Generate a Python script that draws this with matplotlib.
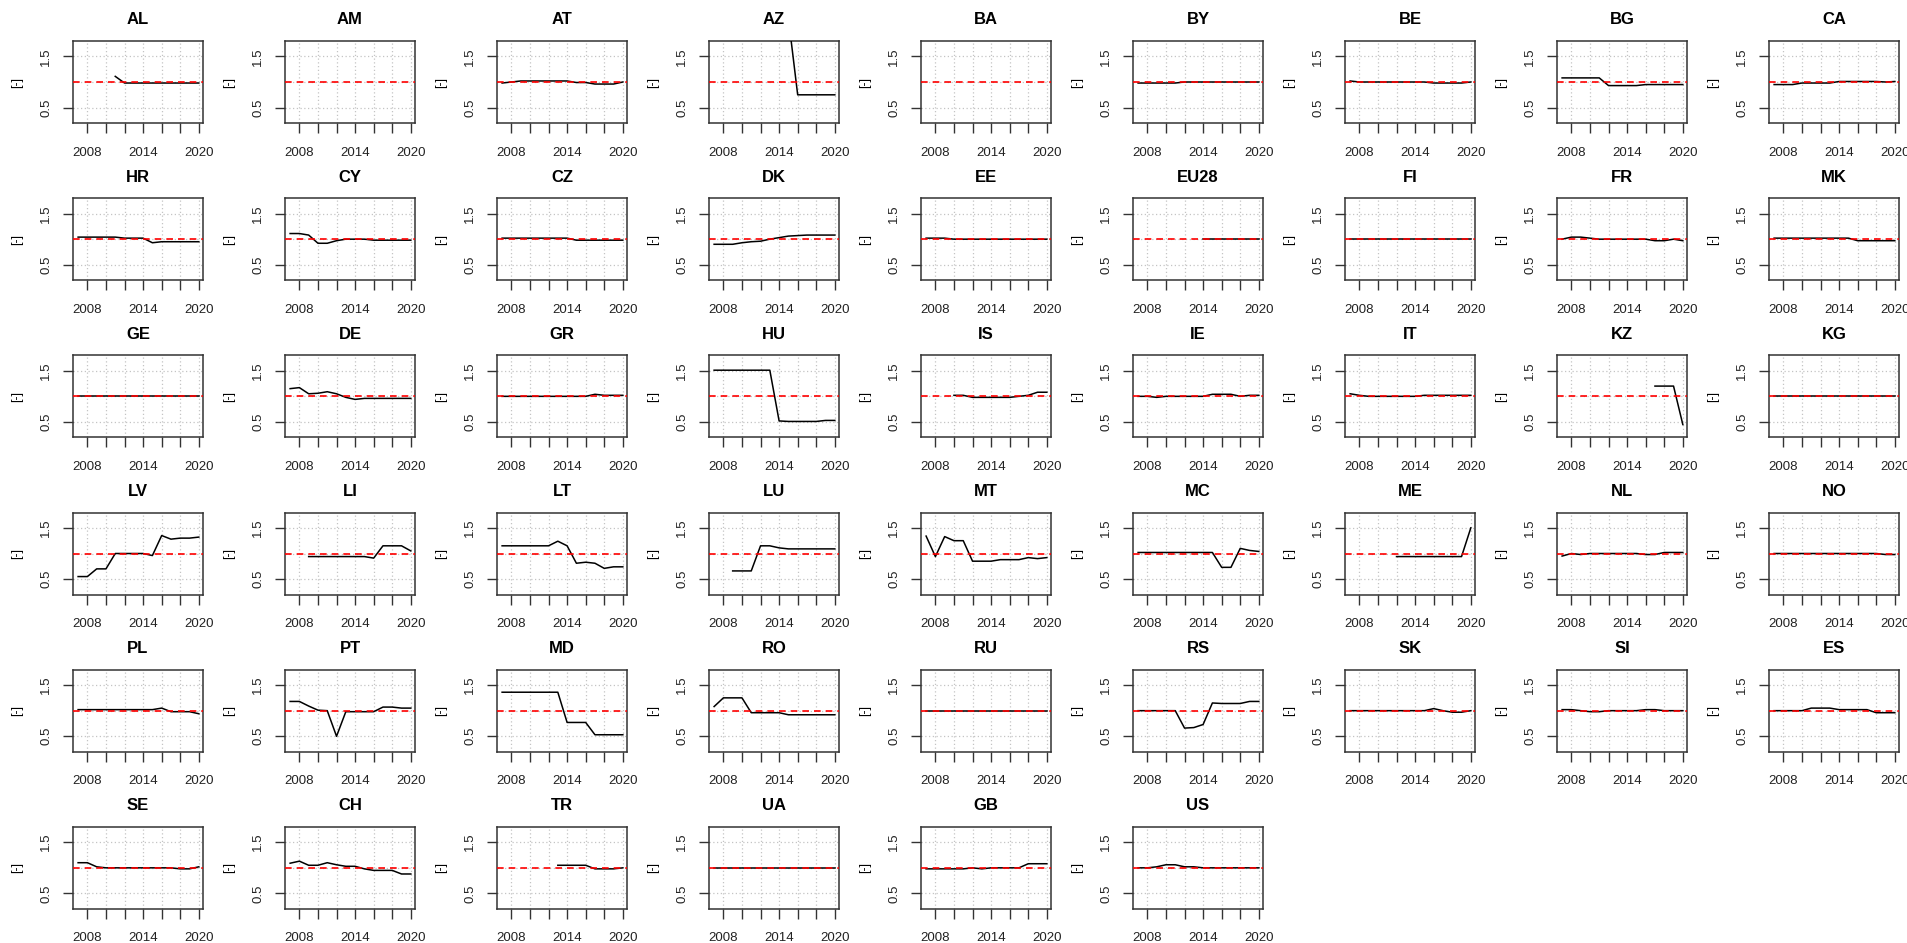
import numpy as np
import matplotlib
matplotlib.use("Agg")
from matplotlib import pyplot as plt

plt.rcParams['font.family'] = ['Liberation Sans', 'DejaVu Sans']

n = np.nan
years = [2007, 2008, 2009, 2010, 2011, 2012, 2013, 2014, 2015, 2016, 2017, 2018, 2019, 2020]

AL = [n, n, n, n, 1.11, 0.98, 0.98, 0.98, 0.98, 0.98, 0.98, 0.98, 0.98, 0.98]
AM = [n, n, n, n, n, n, n, n, n, n, n, n, n, n]
AT = [0.98, 1.0, 1.02, 1.02, 1.02, 1.02, 1.02, 1.02, 0.99, 0.99, 0.96, 0.96, 0.96, 1.0]
AZ = [n, n, n, n, n, n, n, n, 2.25, 0.75, 0.75, 0.75, 0.75, 0.75]
BA = [n, n, n, n, n, n, n, n, n, n, n, n, n, n]
BY = [0.98, 0.98, 0.98, 0.98, 0.98, 1.0, 1.0, 1.0, 1.0, 1.0, 1.0, 1.0, 1.0, 1.0]
BE = [1.02, 1.0, 1.0, 1.0, 1.0, 1.0, 1.0, 1.0, 1.0, 0.98, 0.98, 0.98, 0.98, 1.0]
BG = [1.08, 1.08, 1.08, 1.08, 1.08, 0.93, 0.93, 0.93, 0.93, 0.95, 0.95, 0.95, 0.95, 0.95]
CA = [0.95, 0.95, 0.95, 0.98, 0.98, 0.98, 0.98, 1.01, 1.01, 1.01, 1.01, 1.01, 1.0, 1.01]

HR = [1.04, 1.04, 1.04, 1.04, 1.04, 1.02, 1.02, 1.02, 0.93, 0.95, 0.95, 0.95, 0.95, 0.95]
CY = [1.11, 1.11, 1.08, 0.92, 0.92, 0.97, 1.0, 1.0, 1.0, 0.98, 0.98, 0.98, 0.98, 0.98]
CZ = [1.02, 1.02, 1.02, 1.02, 1.02, 1.02, 1.02, 1.02, 0.98, 0.98, 0.98, 0.98, 0.98, 0.98]
DK = [0.9, 0.9, 0.9, 0.93, 0.95, 0.96, 1.0, 1.03, 1.06, 1.07, 1.08, 1.08, 1.08, 1.08]
EE = [1.02, 1.02, 1.02, 1.0, 1.0, 1.0, 1.0, 1.0, 1.0, 1.0, 1.0, 1.0, 1.0, 1.0]
EU28 = [n, n, n, n, n, n, n, 1.0, 1.0, 1.0, 1.0, 1.0, 1.0, 1.0]
FI = [1.0, 1.0, 1.0, 1.0, 1.0, 1.0, 1.0, 1.0, 1.0, 1.0, 1.0, 1.0, 1.0, 1.0]
FR = [1.0, 1.04, 1.04, 1.02, 1.0, 1.0, 1.0, 1.0, 1.0, 1.0, 0.97, 0.97, 1.0, 0.97]
MK = [1.02, 1.02, 1.02, 1.02, 1.02, 1.02, 1.02, 1.02, 1.02, 0.97, 0.97, 0.97, 0.97, 0.97]

GE = [1.0, 1.0, 1.0, 1.0, 1.0, 1.0, 1.0, 1.0, 1.0, 1.0, 1.0, 1.0, 1.0, 1.0]
DE = [1.15, 1.17, 1.05, 1.06, 1.09, 1.05, 0.98, 0.94, 0.96, 0.96, 0.96, 0.96, 0.96, 0.96]
GR = [1.0, 1.0, 1.0, 1.0, 1.0, 1.0, 1.0, 1.0, 1.0, 1.0, 1.04, 1.02, 1.02, 1.02]
HU = [1.51, 1.51, 1.51, 1.51, 1.51, 1.51, 1.51, 0.52, 0.51, 0.51, 0.51, 0.51, 0.53, 0.53]
IS = [n, n, n, 1.02, 1.02, 0.98, 0.98, 0.98, 0.98, 0.98, 1.0, 1.02, 1.08, 1.08]
IE = [1.0, 1.0, 0.98, 1.0, 1.0, 1.0, 1.0, 1.0, 1.04, 1.04, 1.04, 1.0, 1.02, 1.02]
IT = [1.05, 1.02, 1.0, 1.0, 1.0, 1.0, 1.0, 1.0, 1.02, 1.02, 1.02, 1.02, 1.02, 1.02]
KZ = [n, n, n, n, n, n, n, n, n, n, 1.2, 1.2, 1.2, 0.45]
KG = [1.0, 1.0, 1.0, 1.0, 1.0, 1.0, 1.0, 1.0, 1.0, 1.0, 1.0, 1.0, 1.0, 1.0]

LV = [0.55, 0.55, 0.7, 0.7, 1.0, 1.0, 1.0, 1.0, 0.96, 1.35, 1.28, 1.3, 1.3, 1.32]
LI = [n, n, 0.94, 0.94, 0.94, 0.94, 0.94, 0.94, 0.94, 0.91, 1.15, 1.15, 1.15, 1.05]
LT = [1.15, 1.15, 1.15, 1.15, 1.15, 1.15, 1.24, 1.15, 0.81, 0.83, 0.81, 0.71, 0.74, 0.74]
LU = [n, n, 0.66, 0.66, 0.66, 1.15, 1.15, 1.11, 1.09, 1.09, 1.09, 1.09, 1.09, 1.09]
MT = [1.34, 0.94, 1.33, 1.25, 1.25, 0.85, 0.85, 0.85, 0.88, 0.88, 0.88, 0.92, 0.9, 0.92]
MC = [1.02, 1.02, 1.02, 1.02, 1.02, 1.02, 1.02, 1.02, 1.02, 0.73, 0.73, 1.1, 1.06, 1.04]
ME = [n, n, n, n, n, 0.94, 0.94, 0.94, 0.94, 0.94, 0.94, 0.94, 0.94, 1.5]
NL = [0.95, 1.0, 0.98, 1.0, 1.0, 1.0, 1.0, 1.0, 1.0, 0.98, 0.98, 1.02, 1.02, 1.02]
NO = [1.0, 1.0, 1.0, 1.0, 1.0, 1.0, 1.0, 1.0, 1.0, 1.0, 1.0, 1.0, 0.98, 0.98]

PL = [1.02, 1.02, 1.02, 1.02, 1.02, 1.02, 1.02, 1.02, 1.02, 1.05, 0.98, 0.98, 0.98, 0.94]
PT = [1.18, 1.18, 1.09, 1.01, 1.0, 0.5, 0.98, 0.98, 0.98, 0.98, 1.07, 1.07, 1.05, 1.05]
MD = [1.36, 1.36, 1.36, 1.36, 1.36, 1.36, 1.36, 0.77, 0.77, 0.77, 0.53, 0.53, 0.53, 0.53]
RO = [1.08, 1.25, 1.25, 1.25, 0.96, 0.96, 0.96, 0.96, 0.92, 0.92, 0.92, 0.92, 0.92, 0.92]
RU = [1.0, 1.0, 1.0, 1.0, 1.0, 1.0, 1.0, 1.0, 1.0, 1.0, 1.0, 1.0, 1.0, 1.0]
RS = [1.0, 1.0, 1.0, 1.0, 1.0, 0.66, 0.67, 0.73, 1.15, 1.14, 1.14, 1.14, 1.18, 1.18]
SK = [1.0, 1.0, 1.0, 1.0, 1.0, 1.0, 1.0, 1.0, 1.0, 1.04, 1.0, 0.97, 0.97, 1.0]
SI = [1.02, 1.02, 1.0, 0.98, 0.98, 1.0, 1.0, 1.0, 1.0, 1.02, 1.02, 1.0, 1.0, 1.0]
ES = [1.0, 1.0, 1.0, 1.0, 1.05, 1.05, 1.05, 1.02, 1.02, 1.02, 1.02, 0.96, 0.96, 0.96]

SE = [1.1, 1.1, 1.02, 1.0, 1.0, 1.0, 1.0, 1.0, 1.0, 1.0, 1.0, 0.98, 0.98, 1.02]
CH = [1.09, 1.13, 1.05, 1.05, 1.1, 1.06, 1.03, 1.03, 0.98, 0.95, 0.95, 0.95, 0.88, 0.88]
TR = [n, n, n, n, n, n, 1.05, 1.05, 1.05, 1.05, 0.98, 0.98, 0.98, 1.0]
UA = [1.0, 1.0, 1.0, 1.0, 1.0, 1.0, 1.0, 1.0, 1.0, 1.0, 1.0, 1.0, 1.0, 1.0]
GB = [0.98, 0.98, 0.98, 0.98, 0.98, 1.0, 0.98, 1.0, 1.0, 1.0, 1.0, 1.08, 1.08, 1.08]
US = [1.0, 1.0, 1.02, 1.06, 1.06, 1.02, 1.02, 1.0, 1.0, 1.0, 1.0, 1.0, 1.0, 1.0]

countries = ["AL", "AM", "AT", "AZ", "BA", "BY", "BE", "BG", "CA",
             "HR", "CY", "CZ", "DK", "EE", "EU28", "FI", "FR", "MK",
             "GE", "DE", "GR", "HU", "IS", "IE", "IT", "KZ", "KG",
             "LV", "LI", "LT", "LU", "MT", "MC", "ME", "NL", "NO",
             "PL", "PT", "MD", "RO", "RU", "RS", "SK", "SI", "ES",
             "SE", "CH", "TR", "UA", "GB", "US"]
values = [AL, AM, AT, AZ, BA, BY, BE, BG, CA,
          HR, CY, CZ, DK, EE, EU28, FI, FR, MK,
          GE, DE, GR, HU, IS, IE, IT, KZ, KG,
          LV, LI, LT, LU, MT, MC, ME, NL, NO,
          PL, PT, MD, RO, RU, RS, SK, SI, ES,
          SE, CH, TR, UA, GB, US]

x_ticks = [2008, 2010, 2012, 2014, 2016, 2018, 2020]
x_labels = ["2008", "", "", "2014", "", "", "2020"]

W, H = 1908, 943
ncol, nrow = 9, 6
cell_w, cell_h = W / ncol, H / nrow
fig = plt.figure(figsize=(W / 100, H / 100), dpi=100)

for i, (name, vals) in enumerate(zip(countries, values)):
    r, c = divmod(i, ncol)
    left = (c * cell_w + 73) / W
    bottom = (H - (r * cell_h + 123)) / H
    ax = fig.add_axes([left, bottom, 130 / W, 82 / H])

    ax.set_xlim(2006.45, 2020.45)
    ax.set_ylim(0.2, 1.8)
    for yy in (0.5, 1.0, 1.5):
        ax.axhline(yy, color="#c4c4c4", lw=0.9, ls=(0, (1, 2)), zorder=1)
    for xx in x_ticks:
        ax.axvline(xx, color="#c4c4c4", lw=0.9, ls=(0, (1, 2)), zorder=1)

    ax.plot(years, vals, color="black", lw=1.1, zorder=3)
    ax.axhline(1.0, color="red", lw=1.2, ls=(0, (4, 3)), zorder=4)

    ax.set_xticks(x_ticks)
    ax.set_xticklabels(x_labels)
    ax.set_yticks([0.5, 1.5])
    ax.set_yticklabels(["0.5", "1.5"], rotation=90, va="center")
    ax.tick_params(axis="x", length=7, width=1, color="#333333", pad=10,
                   labelsize=9.5, labelcolor="#222222")
    ax.tick_params(axis="y", length=7, width=1, color="#333333", pad=8,
                   labelsize=9.5, labelcolor="#222222")
    for sp in ax.spines.values():
        sp.set_color("#333333")
        sp.set_linewidth(1.1)

    ax.set_title(name, fontsize=12, fontweight="bold", pad=12)
    ax.set_ylabel("[-]", fontsize=9)
    ax.yaxis.set_label_coords(-0.38, 0.5)

fig.savefig("out.png", dpi=100)
plt.close(fig)
